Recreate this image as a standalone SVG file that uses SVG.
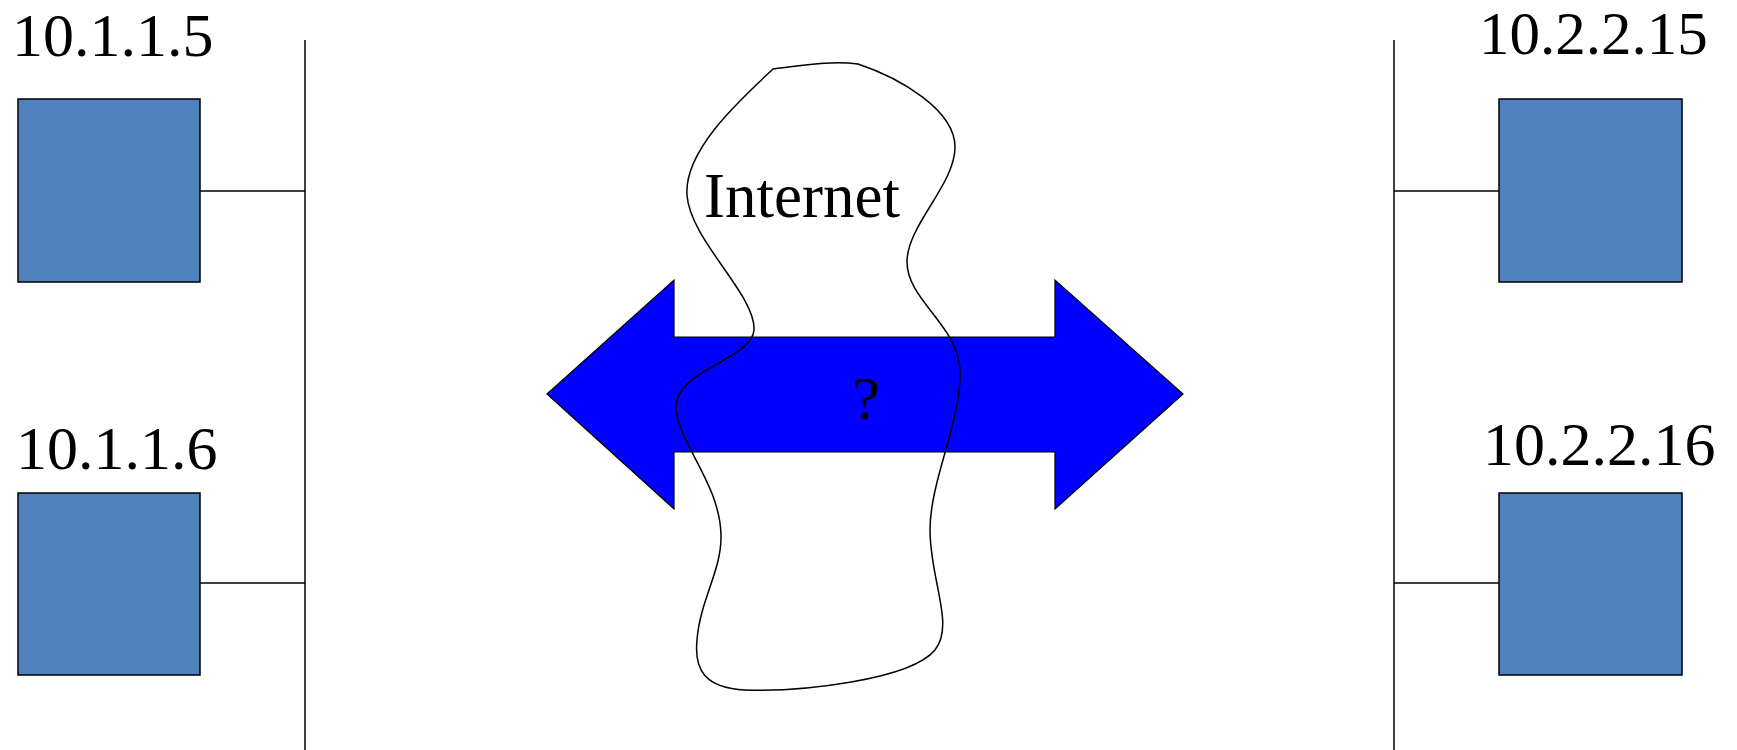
<svg xmlns="http://www.w3.org/2000/svg" width="1737" height="750" viewBox="0 0 1737 750">
  <style>
    .host { fill: #4F81BD; stroke: #000; stroke-width: 1.5; }
    .wire { stroke: #000; stroke-width: 1.5; fill: none; }
    .label { font-family: "Liberation Serif", "Times New Roman", serif; font-size: 62px; fill: #000; }
    .cloud { fill: none; stroke: #000; stroke-width: 1.5; }
    .pipe { fill: #0000FF; stroke: #000; stroke-width: 1.2; }
  </style>
  <rect width="1737" height="750" fill="#fff"/>

  <!-- network buses and host links -->
  <g id="connectors">
    <line class="wire" x1="305" y1="40" x2="305" y2="750"/>
    <line class="wire" x1="1394" y1="40" x2="1394" y2="750"/>
    <line class="wire" x1="200" y1="191" x2="305" y2="191"/>
    <line class="wire" x1="200" y1="583" x2="305" y2="583"/>
    <line class="wire" x1="1394" y1="191" x2="1499" y2="191"/>
    <line class="wire" x1="1394" y1="583" x2="1499" y2="583"/>
  </g>

  <g id="host-10-1-1-5">
    <rect class="host" x="18" y="99" width="182" height="183"/>
    <text class="label" x="12" y="56">10.1.1.5</text>
  </g>
  <g id="host-10-1-1-6">
    <rect class="host" x="18" y="493" width="182" height="182"/>
    <text class="label" x="16" y="469">10.1.1.6</text>
  </g>
  <g id="host-10-2-2-15">
    <rect class="host" x="1499" y="99" width="183" height="183"/>
    <text class="label" x="1479" y="54" style="font-size:61px">10.2.2.15</text>
  </g>
  <g id="host-10-2-2-16">
    <rect class="host" x="1499" y="493" width="183" height="182"/>
    <text class="label" x="1483" y="465">10.2.2.16</text>
  </g>

  <!-- double-headed block arrow -->
  <g id="tunnel">
    <polygon class="pipe" points="547,394 674,280 674,337 1055,337 1055,280 1183,394 1055,509 1055,452 674,452 674,509"/>
    <text class="label" x="866" y="419" text-anchor="middle">?</text>
  </g>

  <!-- internet cloud outline -->
  <g id="internet">
    <path class="cloud" d="M 773,69
      C 800,66 830,60 858,64
      C 900,78 955,110 955,147
      C 955,185 907,225 907,262
      C 907,300 958,325 960,370
      C 962,420 930,480 930,530
      C 930,580 955,625 935,650
      C 910,680 800,692 745,690
      C 705,688 694,670 697,640
      C 700,600 722,570 721,535
      C 720,485 680,445 676,410
      C 672,370 752,360 754,330
      C 756,295 690,240 687,195
      C 684,150 740,100 773,69 Z"/>
    <text class="label" x="704" y="217" style="font-size:63px">Internet</text>
  </g>
</svg>
